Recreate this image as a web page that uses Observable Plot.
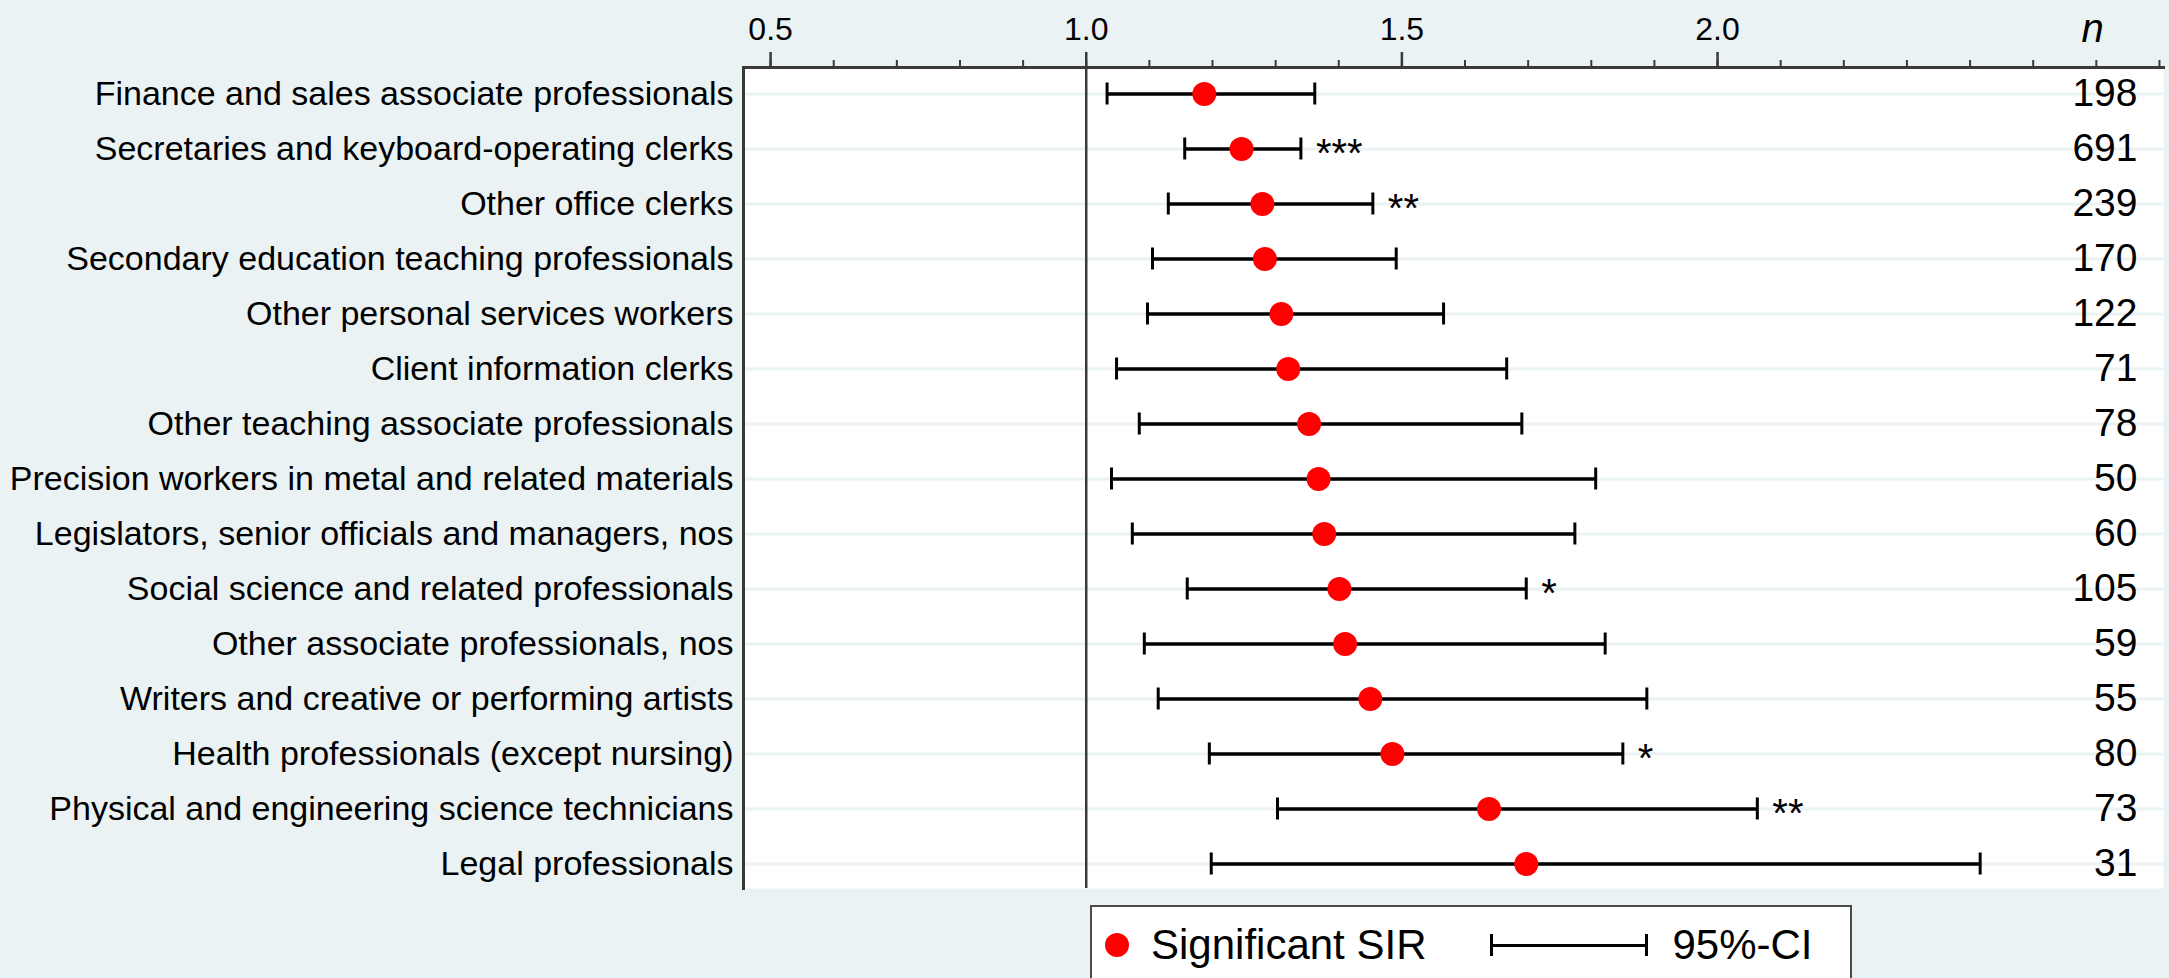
<!DOCTYPE html>
<html>
<head>
<meta charset="utf-8">
<script src="https://cdn.jsdelivr.net/npm/d3@7"></script>
<script src="https://cdn.jsdelivr.net/npm/@observablehq/plot@0.6"></script>
<style>
  html, body { margin: 0; padding: 0; background: #eaf2f3; overflow: hidden; }
  #wrap { position: relative; width: 2169px; height: 978px; font-family: Arial, "Liberation Sans", sans-serif; }
  #chart svg { display: block; }
  #legend {
    position: absolute; left: 1090px; top: 905px; width: 762px; height: 100px;
    box-sizing: border-box; border: 2px solid #4a4a4a; background: #fff;
    font-size: 42px; color: #000;
  }
  #legend .row { height: 76px; display: flex; align-items: center; }
  #legend .dot { width: 24px; height: 24px; border-radius: 50%; background: #ff0000; margin-left: 13px; flex: none; }
  #legend .t1 { margin-left: 22px; line-height: 1; white-space: nowrap; }
  #legend .ci { display: inline-block; width: 152px; height: 22px; margin-left: 64px; flex: none;
    border-left: 3px solid #000; border-right: 3px solid #000;
    background: linear-gradient(#000, #000) center / 100% 3px no-repeat; }
  #legend .t2 { margin-left: 24px; line-height: 1; white-space: nowrap; }
</style>
</head>
<body>
<div id="wrap">
  <div id="chart"></div>
  <div id="legend"><div class="row"><span class="dot"></span><span class="t1">Significant SIR</span><span class="ci"></span><span class="t2">95%-CI</span></div></div>
</div>
<script>
const labels = [
  "Finance and sales associate professionals",
  "Secretaries and keyboard-operating clerks",
  "Other office clerks",
  "Secondary education teaching professionals",
  "Other personal services workers",
  "Client information clerks",
  "Other teaching associate professionals",
  "Precision workers in metal and related materials",
  "Legislators, senior officials and managers, nos",
  "Social science and related professionals",
  "Other associate professionals, nos",
  "Writers and creative or performing artists",
  "Health professionals (except nursing)",
  "Physical and engineering science technicians",
  "Legal professionals"
];
const sir = [1.187, 1.246, 1.279, 1.283, 1.309, 1.320, 1.353, 1.368, 1.377, 1.401, 1.410, 1.450, 1.485, 1.638, 1.697];
const ciLow = [1.033, 1.156, 1.130, 1.105, 1.097, 1.048, 1.084, 1.040, 1.073, 1.160, 1.092, 1.114, 1.195, 1.303, 1.198];
const ciHigh = [1.362, 1.340, 1.454, 1.491, 1.566, 1.666, 1.690, 1.807, 1.774, 1.697, 1.822, 1.888, 1.850, 2.063, 2.416];
const nCases = [198, 691, 239, 170, 122, 71, 78, 50, 60, 105, 59, 55, 80, 73, 31];
const stars = ["", "***", "**", "", "", "", "", "", "", "*", "", "", "*", "**", ""];
const xTicks = [0.5, 1.0, 1.5, 2.0];
const xMinorTicks = [0.5, 0.6, 0.7, 0.8, 0.9, 1.0, 1.1, 1.2, 1.3, 1.4, 1.5, 1.6, 1.7, 1.8, 1.9, 2.0, 2.1, 2.2, 2.3, 2.4, 2.5, 2.6, 2.7];

const data = labels.map((label, i) => ({label, sir: sir[i], lo: ciLow[i], hi: ciHigh[i], n: nCases[i], stars: stars[i]}));

const font = 'Arial, "Liberation Sans", sans-serif';
const axisColor = "#3a3a3a";

const chart = Plot.plot({
  width: 2169,
  height: 898,
  marginLeft: 743,
  marginRight: 6,
  marginTop: 67,
  marginBottom: 10,
  style: {background: "transparent", fontFamily: font, color: "#000", overflow: "visible"},
  x: {domain: [0.4571, 2.7064]},
  y: {type: "band", domain: labels, range: [65.5, 891.5], padding: 0},
  marks: [
    Plot.frame({fill: "white", stroke: null}),
    Plot.ruleY(labels, {y: d => d, stroke: "#eaf2f3", strokeWidth: 3}),
    Plot.ruleX([1], {stroke: axisColor, strokeWidth: 2.5}),
    Plot.ruleY(data, {y: "label", x1: "lo", x2: "hi", stroke: "#000", strokeWidth: 3.5}),
    Plot.tickX(data, {x: "lo", y: "label", stroke: "#000", strokeWidth: 3, insetTop: 16.5, insetBottom: 16.5}),
    Plot.tickX(data, {x: "hi", y: "label", stroke: "#000", strokeWidth: 3, insetTop: 16.5, insetBottom: 16.5}),
    Plot.dot(data, {x: "sir", y: "label", r: 12, fill: "#ff0000", stroke: null}),
    Plot.text(data, {x: "hi", y: "label", text: "stars", textAnchor: "start", dx: 15, dy: 5, fontSize: 40, fill: "#000"}),
    Plot.text(data, {y: "label", text: d => String(d.n), frameAnchor: "right", textAnchor: "end", dx: -26, fontSize: 39, fill: "#000"}),
    Plot.text(["n"], {text: d => d, frameAnchor: "top-right", textAnchor: "middle", dx: -71, dy: -54, fontSize: 40, fontStyle: "italic", fill: "#000"}),
    Plot.frame({anchor: "left", stroke: axisColor, strokeWidth: 3}),
    Plot.frame({anchor: "top", stroke: axisColor, strokeWidth: 3}),
    Plot.axisX(xMinorTicks, {anchor: "top", tickSize: 8, text: null, stroke: axisColor, strokeWidth: 2}),
    Plot.axisX(xTicks, {anchor: "top", tickSize: 16, tickPadding: 12, tickFormat: d3.format(".1f"), fontSize: 32, stroke: axisColor, strokeWidth: 2.5, fill: "#000", label: null}),
    Plot.axisY({tickSize: 0, tickPadding: 10, fontSize: 34, fill: "#000", label: null})
  ]
});
document.getElementById("chart").appendChild(chart);
</script>
</body>
</html>
